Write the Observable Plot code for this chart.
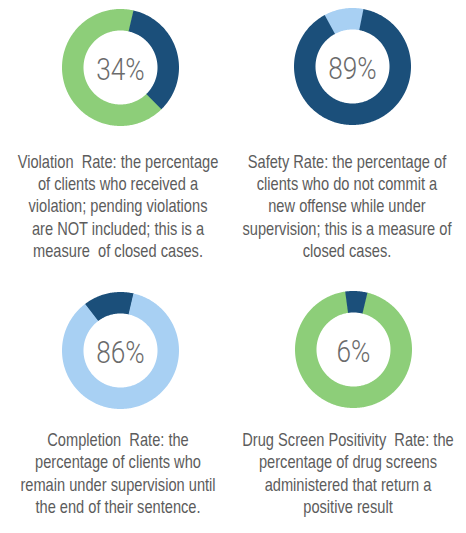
<!DOCTYPE html>
<html><head><meta charset="utf-8">
<script src="https://cdn.jsdelivr.net/npm/d3@7"></script>
<script src="https://cdn.jsdelivr.net/npm/@observablehq/plot@0.6"></script>
<style>
html,body{margin:0;padding:0;background:#fff;}
#chart{position:relative;width:466px;height:533px;overflow:hidden;font-family:"Liberation Sans",Arial,sans-serif;}
.donut{position:absolute;}
.cap{position:absolute;width:310px;text-align:center;color:#5c5c5c;font-size:19px;line-height:22.4px;white-space:pre;
  transform:scaleX(0.77);transform-origin:50% 0;}
</style></head><body><div id="chart"></div>
<script>
// ---- data ----
const metrics = ["Violation Rate", "Safety Rate", "Completion Rate", "Drug Screen Positivity Rate"];
const rates = [34, 89, 86, 6];
const rateLabels = ["34%", "89%", "86%", "6%"];
const captions = [
  "Violation  Rate: the percentage\nof clients who received a\nviolation; pending violations\nare NOT included; this is a\nmeasure  of closed cases.",
  "Safety Rate: the percentage of\nclients who do not commit a\nnew offense while under\nsupervision; this is a measure of\nclosed cases.",
  "Completion  Rate: the\npercentage of clients who\nremain under supervision until\nthe end of their sentence.",
  "Drug Screen Positivity  Rate: the\npercentage of drug screens\nadministered that return a\npositive result"
];

// ---- styles / layout ----
const DARK = "#1b4f7a", GREEN = "#8dce79", LIGHT = "#a8d0f3";
const layout = [
  {cx: 120, cy: 66.5, start: 13, rateColor: DARK, restColor: GREEN, capX: 117.5, capTop: 150.5},
  {cx: 352, cy: 65.5, start: 11, rateColor: DARK, restColor: LIGHT, capX: 347, capTop: 150.5},
  {cx: 120, cy: 349.5, start: 13, rateColor: LIGHT, restColor: DARK, capX: 118, capTop: 429},
  {cx: 353, cy: 349, start: -8, rateColor: DARK, restColor: GREEN, capX: 347.5, capTop: 429}
];
const SIZE = 130, R = 58.5, r = 37;
const MID = (R + r) / 2, THICK = R - r;

function arcPoints(a0, a1, key, color) {
  const n = Math.max(2, Math.ceil(Math.abs(a1 - a0)) + 1);
  return d3.range(n).map(i => {
    const a = (a0 + (a1 - a0) * i / (n - 1)) * Math.PI / 180;
    return {x: MID * Math.sin(a), y: MID * Math.cos(a), key, color};
  });
}

const chart = document.getElementById("chart");
metrics.forEach((m, i) => {
  const L = layout[i];
  const rateEnd = L.start + rates[i] * 3.6;
  const eps = 0.3;
  const pts = [
    ...arcPoints(rateEnd - eps, L.start + 360 + eps, "rest", L.restColor),
    ...arcPoints(L.start - eps, rateEnd + eps, "rate", L.rateColor)
  ];
  const svg = Plot.plot({
    width: SIZE, height: SIZE, margin: 0,
    x: {domain: [-SIZE / 2, SIZE / 2], axis: null},
    y: {domain: [-SIZE / 2, SIZE / 2], axis: null},
    color: {type: "identity"},
    style: {background: "transparent", overflow: "visible"},
    marks: [
      Plot.line(pts, {x: "x", y: "y", z: "key", stroke: "color", strokeWidth: THICK, strokeLinecap: "butt", strokeLinejoin: "round"}),
      Plot.text([rateLabels[i]], {text: d => d, frameAnchor: "middle", dy: 2, fontSize: 32, fontWeight: 300, fill: "#6b6b6b",
        fontFamily: "Roboto, 'Liberation Sans', sans-serif"})
    ]
  });
  // condense the percentage label horizontally around its anchor
  d3.select(svg).selectAll("text").each(function() {
    const t = this.getAttribute("transform") || "";
    this.setAttribute("transform", (t + " scale(0.82,1)").trim());
  });
  svg.classList.add("donut");
  svg.setAttribute("aria-label", m);
  svg.style.left = (L.cx - SIZE / 2) + "px";
  svg.style.top = (L.cy - SIZE / 2) + "px";
  chart.appendChild(svg);

  const cap = document.createElement("div");
  cap.className = "cap";
  cap.textContent = captions[i];
  cap.style.left = (L.capX - 155) + "px";
  cap.style.top = L.capTop + "px";
  chart.appendChild(cap);
});
</script>
</body></html>
